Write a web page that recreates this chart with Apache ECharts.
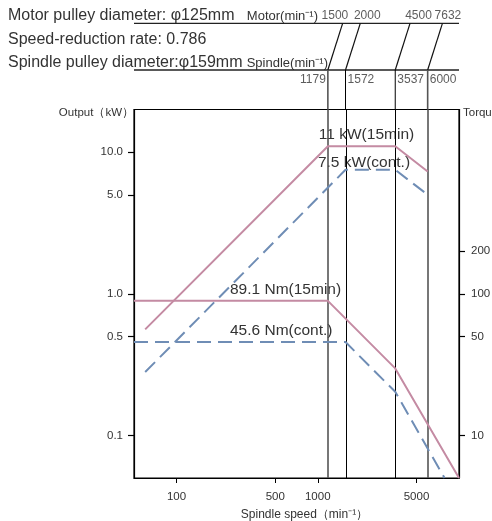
<!DOCTYPE html>
<html><head><meta charset="utf-8">
<script src="https://cdn.jsdelivr.net/npm/echarts@6/dist/echarts.min.js"></script>
<style>html,body{margin:0;padding:0;background:#fff}#c{width:492px;height:521px}</style>
</head><body><div id="c"></div>
<script>
// ---- data ----
const speedTicks = [100, 500, 1000, 5000];
const outputTicks = [0.1, 0.5, 1, 5, 10];
const torqueTicks = [10, 50, 100, 200];
const speedRange = [50, 10000];
const outputRange = [0.05, 20];
const torqueRange = [5, 2000];
const motorSpeeds = [1500, 2000, 4500, 7632];
const spindleSpeeds = [1179, 1572, 3537, 6000];
const power15 = [[60, 0.56], [1179, 11], [3537, 11], [6000, 7.3]];
const powerCont = [[60, 0.28], [1572, 7.5], [3537, 7.5], [6000, 5.0]];
const torque15 = [[50, 89.1], [1179, 89.1], [3537, 29.7], [10000, 5]];
const torqueCont = [[50, 45.6], [1572, 45.6], [3537, 20.3], [7900, 5]];

const L = Math.log10;
const PINK = '#c48ba3';
const BLUE = '#6f8db5';
const FONT = 'Liberation Sans, Arial, sans-serif';
const TXT = '#333';

// header layout levels (fraction of header grid height)
const motorLv = 0.787, spindleLv = 0.3607, motorLabLv = 0.854, spindleLabLv = 0.2694;
const motorLabelOffsets = [-7.7, 7, 8.5, 5.5];
const vLineStyles = [
  {color: '#555', width: 1.6}, {color: '#000', width: 1},
  {color: '#000', width: 1}, {color: '#555', width: 1.6}
];

const toLog = arr => arr.map(p => [L(p[0]), L(p[1])]);

const series = [
  {type: 'line', xAxisIndex: 0, yAxisIndex: 0, data: toLog(power15), symbol: 'none',
   lineStyle: {color: PINK, width: 2}, z: 5,
   markLine: {symbol: 'none', silent: true, label: {show: false},
     data: spindleSpeeds.map((s, i) => ({xAxis: L(s), lineStyle: Object.assign({type: 'solid'}, vLineStyles[i])}))}},
  {type: 'line', xAxisIndex: 0, yAxisIndex: 0, data: toLog(powerCont), symbol: 'none',
   lineStyle: {color: BLUE, width: 2, type: [14, 7]}, z: 5},
  {type: 'line', xAxisIndex: 0, yAxisIndex: 1, data: toLog(torque15), symbol: 'none',
   lineStyle: {color: PINK, width: 2}, z: 5},
  {type: 'line', xAxisIndex: 0, yAxisIndex: 1, data: toLog(torqueCont), symbol: 'none',
   lineStyle: {color: BLUE, width: 2, type: [14, 7]}, z: 5},
  // header horizontal lines
  {type: 'line', xAxisIndex: 1, yAxisIndex: 2, symbol: 'none', silent: true,
   data: [[L(speedRange[0]), motorLv], [L(speedRange[1]), motorLv]], lineStyle: {color: '#222', width: 1.3}},
  {type: 'line', xAxisIndex: 1, yAxisIndex: 2, symbol: 'none', silent: true,
   data: [[L(speedRange[0]), spindleLv], [L(speedRange[1]), spindleLv]], lineStyle: {color: '#222', width: 1.3}}
];
motorSpeeds.forEach((m, i) => {
  series.push({type: 'line', xAxisIndex: 1, yAxisIndex: 2, symbol: 'none', silent: true,
    data: [[L(m), motorLv], [L(spindleSpeeds[i]), spindleLv]], lineStyle: {color: '#111', width: 1.2}});
  series.push({type: 'line', xAxisIndex: 1, yAxisIndex: 2, symbol: 'none', silent: true,
    data: [[L(spindleSpeeds[i]), spindleLv], [L(spindleSpeeds[i]), 0]], lineStyle: vLineStyles[i]});
});
series.push({type: 'scatter', xAxisIndex: 1, yAxisIndex: 2, symbolSize: 0.1, silent: true,
  itemStyle: {color: 'rgba(0,0,0,0)'},
  label: {show: true, position: 'inside', formatter: p => String(p.data.name), color: TXT, fontSize: 12, fontFamily: FONT},
  data: motorSpeeds.map((m, i) => ({name: m, value: [L(m), motorLabLv], label: {offset: [motorLabelOffsets[i], 0]}}))});
series.push({type: 'scatter', xAxisIndex: 1, yAxisIndex: 2, symbolSize: 0.1, silent: true,
  itemStyle: {color: 'rgba(0,0,0,0)'},
  label: {show: true, formatter: p => String(p.data.name), color: TXT, fontSize: 12, fontFamily: FONT, distance: 2},
  data: spindleSpeeds.map((s, i) => ({name: s, value: [L(s), spindleLabLv], label: {position: i === 0 ? 'left' : 'right'}}))});

const axisText = {color: TXT, fontSize: 11.5, fontFamily: FONT};
const hText = (text, x, y, size, align) => ({type: 'text', x: x, y: y, silent: true,
  style: {text: text, fill: TXT, font: size + 'px ' + FONT, align: align || 'left', verticalAlign: 'middle'}});

const option = {
  animation: false,
  textStyle: {fontFamily: FONT},
  grid: [
    {left: 134, right: 33, top: 109.5, height: 368.5, show: true, borderColor: '#000', borderWidth: 1.2,
     containLabel: false, outerBoundsMode: 'none'},
    {left: 134, right: 33, top: 0, height: 109.5, containLabel: false, outerBoundsMode: 'none'}
  ],
  xAxis: [
    {type: 'value', gridIndex: 0, min: L(speedRange[0]), max: L(speedRange[1]),
     name: 'Spindle speed（min⁻¹）', nameLocation: 'middle', nameGap: 31,
     nameTextStyle: {color: TXT, fontSize: 12, fontFamily: FONT, padding: [0, 0, 0, 16]},
     axisLine: {show: true, onZero: false, lineStyle: {color: '#000', width: 1.2}},
     axisTick: {show: true, length: 5, lineStyle: {color: '#000'}, customValues: speedTicks.map(L)},
     axisLabel: Object.assign({margin: 13, customValues: speedTicks.map(L), formatter: v => String(Math.round(Math.pow(10, v)))}, axisText),
     splitLine: {show: false}},
    {type: 'value', gridIndex: 1, min: L(speedRange[0]), max: L(speedRange[1]), show: false}
  ],
  yAxis: [
    {type: 'value', gridIndex: 0, position: 'left', min: L(outputRange[0]), max: L(outputRange[1]),
     name: 'Output（kW）', nameLocation: 'end', nameGap: -3.8,
     nameTextStyle: {color: TXT, fontSize: 11.5, fontFamily: FONT, align: 'right', verticalAlign: 'middle', padding: [0, 0, 0, 0]},
     axisLine: {show: true, onZero: false, lineStyle: {color: '#000', width: 1.2}},
     axisTick: {show: true, length: 6, lineStyle: {color: '#000', width: 1.2}, customValues: outputTicks.map(L)},
     axisLabel: Object.assign({margin: 11, customValues: outputTicks.map(L), formatter: v => Math.pow(10, v).toFixed(1)}, axisText),
     splitLine: {show: false}},
    {type: 'value', gridIndex: 0, position: 'right', min: L(torqueRange[0]), max: L(torqueRange[1]),
     name: 'Torque（Nm）', nameLocation: 'end', nameGap: -3.8,
     nameTextStyle: {color: TXT, fontSize: 11.5, fontFamily: FONT, align: 'left', verticalAlign: 'middle', padding: [0, 0, 0, 4]},
     axisLine: {show: true, onZero: false, lineStyle: {color: '#000', width: 1.2}},
     axisTick: {show: true, length: 6, lineStyle: {color: '#000', width: 1.2}, customValues: torqueTicks.map(L)},
     axisLabel: Object.assign({margin: 12, customValues: torqueTicks.map(L), formatter: v => String(Math.round(Math.pow(10, v)))}, axisText),
     splitLine: {show: false}},
    {type: 'value', gridIndex: 1, min: 0, max: 1, show: false}
  ],
  graphic: [
    hText('Motor pulley diameter: φ125mm', 8, 16, 16),
    hText('Speed-reduction rate: 0.786', 8, 40, 16),
    hText('Spindle pulley diameter:φ159mm', 8, 63, 16),
    hText('Motor(min⁻¹)', 318, 16, 13, 'right'),
    hText('Spindle(min⁻¹)', 328, 63, 13, 'right'),
    hText('11 kW(15min)', 366.5, 135, 15.5, 'center'),
    hText('7.5 kW(cont.)', 364, 162.3, 15.5, 'center'),
    hText('89.1 Nm(15min)', 230, 290, 15.5),
    hText('45.6 Nm(cont.)', 230, 330.7, 15.5)
  ],
  series: series
};
const chart = echarts.init(document.getElementById('c'), null, {renderer: 'canvas'});
chart.setOption(option);
</script></body></html>
